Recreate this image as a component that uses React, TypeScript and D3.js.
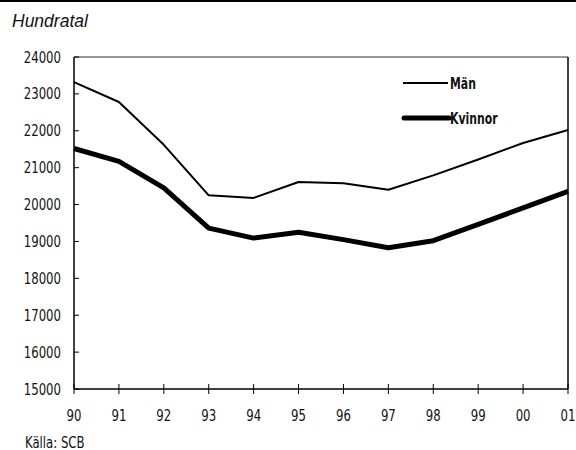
import * as d3 from 'd3';

const years = ['90', '91', '92', '93', '94', '95', '96', '97', '98', '99', '00', '01'];
const man = [23320, 22780, 21620, 20250, 20180, 20610, 20580, 20400, 20790, 21220, 21670, 22020];
const kvinnor = [21520, 21170, 20450, 19360, 19090, 19250, 19050, 18830, 19020, 19460, 19910, 20355];
const yTicks = [15000, 16000, 17000, 18000, 19000, 20000, 21000, 22000, 23000, 24000];

const W = 576;
const H = 450;
const margin = { top: 57, right: 8, bottom: 61, left: 74 };
const narrow = "'DejaVu Sans Condensed', 'DejaVu Sans', sans-serif";

// condensed text: squeeze horizontally around the anchor point
const Cond = ({ x, y, anchor = 'start', bold = false, size = 15.5, sx = 0.84, children }: any) => (
  <text
    transform={`translate(${x},${y}) scale(${sx},1)`}
    textAnchor={anchor}
    fontFamily={narrow}
    fontStretch="condensed"
    fontWeight={bold ? 'bold' : 'normal'}
    fontSize={size}
    fill="#111"
  >
    {children}
  </text>
);

export default function App() {
  const x = d3.scalePoint<string>().domain(years).range([margin.left, W - margin.right]);
  const y = d3.scaleLinear().domain([15000, 24000]).range([H - margin.bottom, margin.top]);

  const line = d3.line<number>()
    .x((_, i) => x(years[i]) as number)
    .y(d => y(d));

  const x0 = margin.left;
  const x1 = W - margin.right;
  const yTop = y(24000);
  const yBot = y(15000);

  return (
    <svg
      width={W}
      height={H}
      style={{ position: 'absolute', left: 0, top: 0, background: '#fff' }}
    >
      {/* top rule */}
      <line x1={0} x2={W} y1={1} y2={1} stroke="#000" strokeWidth={2} />
      <text x={12} y={27} fontFamily="'Liberation Sans', Arial, sans-serif" fontStyle="italic" fontSize={17.5} fill="#111">
        Hundratal
      </text>

      {/* frame */}
      <line x1={x0} x2={x1} y1={yTop} y2={yTop} stroke="#777" strokeWidth={1.5} />
      <line x1={x1} x2={x1} y1={yTop} y2={yBot} stroke="#000" strokeWidth={1.5} />
      <line x1={x0} x2={x0} y1={yTop} y2={yBot} stroke="#000" strokeWidth={1.5} />
      <line x1={x0} x2={x1} y1={yBot} y2={yBot} stroke="#000" strokeWidth={1.5} />

      {/* y ticks */}
      {yTicks.map(t => (
        <g key={t}>
          <line x1={x0} x2={x0 + 5} y1={y(t)} y2={y(t)} stroke="#000" strokeWidth={1} />
          <Cond x={61} y={y(t) + 5.5} anchor="end">{t}</Cond>
        </g>
      ))}

      {/* x ticks */}
      {years.map(yr => (
        <g key={yr}>
          <line x1={x(yr)} x2={x(yr)} y1={yBot - 5} y2={yBot + 5} stroke="#000" strokeWidth={1} />
          <Cond x={x(yr)} y={421} anchor="middle">{yr}</Cond>
        </g>
      ))}

      {/* series */}
      <path d={line(man) || ''} fill="none" stroke="#000" strokeWidth={2} strokeLinejoin="round" />
      <path d={line(kvinnor) || ''} fill="none" stroke="#000" strokeWidth={5} strokeLinejoin="round" />

      {/* legend */}
      <line x1={403} x2={448} y1={83} y2={83} stroke="#000" strokeWidth={2} />
      <Cond x={450} y={88.5} bold sx={0.78}>Män</Cond>
      <line x1={404} x2={449} y1={118} y2={118} stroke="#000" strokeWidth={5} strokeLinecap="round" />
      <Cond x={450} y={123.5} bold sx={0.78}>Kvinnor</Cond>

      <Cond x={25} y={448}>Källa: SCB</Cond>
    </svg>
  );
}
